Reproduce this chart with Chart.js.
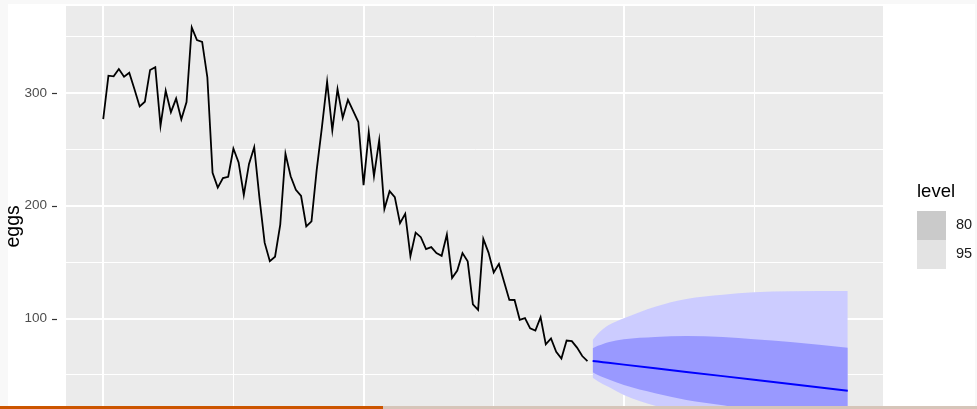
<!DOCTYPE html>
<html>
<head>
<meta charset="utf-8">
<script src="https://cdn.jsdelivr.net/npm/chart.js@4"></script>
<style>
  html, body { margin: 0; padding: 0; }
  body {
    width: 977px; height: 409px; overflow: hidden; position: relative;
    background: #f8f8f8; font-family: "Liberation Sans", Arial, sans-serif;
  }
  #sheet { position: absolute; left: 8px; top: 4px; width: 967px; height: 470px; background: #fff; }
  #wrap  { position: absolute; left: 0; top: 0; width: 977px; height: 460px; }
  .lg    { position: absolute; line-height: 1; color: #000; white-space: nowrap; }
  .key   { position: absolute; left: 917px; width: 29px; height: 29px; }
  .bar   { position: absolute; top: 406px; height: 3px; }
</style>
</head>
<body>
<div id="sheet"></div>
<div id="wrap"><canvas id="chart" width="977" height="460" style="width:977px;height:460px"></canvas></div>

<div class="lg" style="left:917px; top:182px; font-size:18.5px;">level</div>
<div class="key" style="top:211px; background:#cacaca;"></div>
<div class="key" style="top:240px; background:#e3e3e3;"></div>
<div class="lg" style="left:956px; top:217px; font-size:14.5px; color:#1a1a1a;">80</div>
<div class="lg" style="left:956px; top:246px; font-size:14.5px; color:#1a1a1a;">95</div>

<div class="bar" style="left:0; width:383px; background:#cc5500;"></div>
<div class="bar" style="left:383px; width:594px; background:#d6c5b9;"></div>

<script>
// ── Data: US egg prices 1900–1993 ─────────────────────────────────────
const START_YEAR = 1900;
const EGGS = [
  276.79, 315.42, 314.87, 321.25, 314.54, 317.92, 303.39, 288.13, 292.27, 320.47,
  322.99, 270.94, 302.04, 283.03, 295.10, 276.71, 291.98, 358.24, 346.96, 345.39,
  313.97, 229.31, 216.07, 224.54, 225.72, 250.81, 238.49, 209.63, 237.09, 251.96,
  207.29, 167.27, 150.86, 154.78, 183.33, 246.19, 226.18, 214.15, 208.66, 181.69,
  186.16, 231.84, 269.46, 310.00, 266.99, 303.41, 278.11, 293.98, 284.26, 274.25,
  218.35, 265.22, 226.20, 257.97, 197.19, 212.94, 207.63, 184.66, 192.92, 155.36,
  176.22, 172.15, 161.61, 163.37, 158.07, 155.62, 174.46, 135.97, 142.55, 158.06,
  150.69, 112.55, 107.70, 170.58, 158.44, 140.79, 148.44, 132.43, 116.47, 116.44,
   98.88, 100.30,  91.22,  89.27, 101.10,  77.06,  82.38,  70.46,  64.46,  80.50,
   79.97,  74.17,  66.73,  62.28
];

// ── Forecast (read at these years) ────────────────────────────────────
const FC_YEARS = [1994, 1995, 1996, 1997, 2000, 2006, 2012, 2019, 2025, 2032, 2043];
const FC_MEAN  = [62.3, 61.8, 61.2, 60.7, 59.1, 55.9, 52.6, 48.9, 45.7, 41.9, 36.0];
const HI80     = [73.6, 75.8, 77.5, 78.9, 81.6, 83.6, 84.5, 83.6, 81.6, 79.2, 74.1];
const LO80     = [52.3, 49.8, 47.8, 46.1, 41.0, 33.7, 27.7, 23.0, 18.0, 14.0,  9.0];
const HI95     = [80.9, 86.5, 90.6, 94.0, 100.2, 110.5, 117.3, 121.0, 123.2, 124.1, 124.4];
const LO95     = [47.5, 44.3, 41.7, 39.4, 32.2, 22.7, 16.5, 12.0,  9.0,  7.0,  4.0];

// ── Axes ──────────────────────────────────────────────────────────────
const X_GRID = [1900, 1925, 1950, 1975, 2000, 2025, 2050];
const X_MAJOR = [1900, 1950, 2000, 2050];
const Y_GRID = [0, 50, 100, 150, 200, 250, 300, 350];
const Y_LABELS = [0, 100, 200, 300];

const FONT = '"Liberation Sans", Arial, sans-serif';
const pts = (xs, ys) => xs.map((x, i) => ({ x, y: ys[i] }));
const NONE = 'rgba(0,0,0,0)';

function band(data, order, fill, color) {
  return {
    data, order, fill, backgroundColor: color, borderColor: NONE, borderWidth: 0,
    pointRadius: 0, cubicInterpolationMode: 'monotone',
  };
}

// short tick marks left of the panel
const tickMarks = {
  id: 'tickMarks',
  afterDraw(chart) {
    const y = chart.scales.y, ctx = chart.ctx;
    ctx.save();
    ctx.strokeStyle = '#333333';
    ctx.lineWidth = 1.2;
    Y_LABELS.forEach(v => {
      const py = Math.round(y.getPixelForValue(v)) + 0.5;
      ctx.beginPath(); ctx.moveTo(52, py); ctx.lineTo(57, py); ctx.stroke();
    });
    ctx.restore();
  }
};

const panelBg = {
  id: 'panelBg',
  beforeDraw(chart) {
    const { ctx, chartArea: a } = chart;
    ctx.save();
    ctx.fillStyle = '#ebebeb';
    ctx.fillRect(a.left, a.top, a.right - a.left, a.bottom - a.top);
    ctx.restore();
  }
};

new Chart(document.getElementById('chart'), {
  type: 'line',
  data: {
    datasets: [
      band(pts(FC_YEARS, HI95), 10, 1, '#ccccff'),
      band(pts(FC_YEARS, LO95), 10, false, NONE),
      band(pts(FC_YEARS, HI80), 8, 3, '#9999ff'),
      band(pts(FC_YEARS, LO80), 8, false, NONE),
      {
        data: pts(FC_YEARS, FC_MEAN), order: 2, borderColor: '#0000ff', borderWidth: 2,
        pointRadius: 0, fill: false, tension: 0,
      },
      {
        data: EGGS.map((v, i) => ({ x: START_YEAR + i, y: v })), order: 1,
        borderColor: '#000000', borderWidth: 1.8, pointRadius: 0, fill: false, tension: 0,
      },
    ]
  },
  options: {
    responsive: false,
    animation: false,
    layout: { padding: { left: 0, top: 6, right: 92, bottom: 13.3 } },
    plugins: { legend: { display: false }, tooltip: { enabled: false } },
    scales: {
      x: {
        type: 'linear', min: 1892.85, max: 2050.15,
        afterBuildTicks: s => { s.ticks = X_GRID.map(v => ({ value: v })); },
        afterFit: s => { s.height = 0; s.paddingLeft = 0; s.paddingRight = 0; },
        ticks: { display: false },
        grid: {
          color: '#ffffff', drawTicks: false,
          lineWidth: c => X_MAJOR.includes(c.tick && c.tick.value) ? 2 : 1,
        },
        border: { display: false },
      },
      y: {
        min: -13.7, max: 377.2,
        afterBuildTicks: s => { s.ticks = Y_GRID.map(v => ({ value: v })); },
        afterFit: s => { s.width = 66; s.paddingTop = 0; s.paddingBottom = 0; },
        ticks: {
          color: '#4d4d4d', padding: 19, font: { family: FONT, size: 13.5 },
          callback: v => Y_LABELS.includes(v) ? String(v) : '',
        },
        grid: {
          color: '#ffffff', drawTicks: false,
          lineWidth: c => Y_LABELS.includes(c.tick && c.tick.value) ? 2 : 1,
        },
        border: { display: false },
        title: {
          display: true, text: 'eggs', color: '#000000',
          font: { family: FONT, size: 19.5 }, padding: { top: 2, bottom: 0 },
        },
      },
    }
  },
  plugins: [panelBg, tickMarks]
});
</script>
</body>
</html>
